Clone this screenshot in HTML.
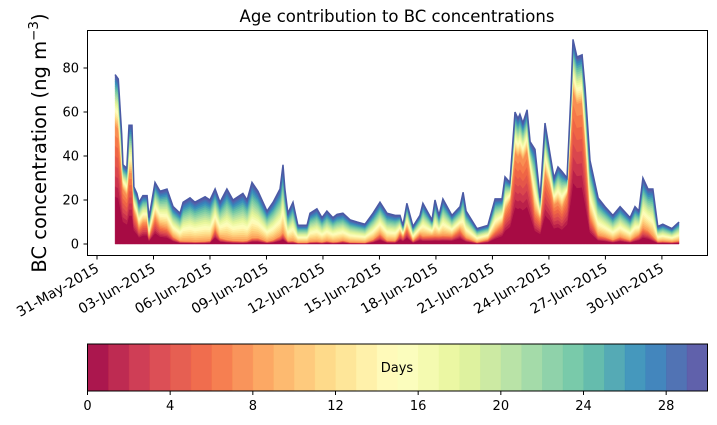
<!DOCTYPE html>
<html><head><meta charset="utf-8"><style>
body{margin:0;background:#fff;}
svg{display:block;font-family:"DejaVu Sans","Liberation Sans",sans-serif;}
</style></head><body>
<svg id="chart" width="717" height="425">
<text x="397" y="22" font-size="16.5" text-anchor="middle">Age contribution to BC concentrations</text>
<text transform="translate(46,143) rotate(-90)" font-size="19.5" text-anchor="middle">BC concentration (ng m<tspan dy="-8" font-size="13.5">−3</tspan><tspan dy="8">)</tspan></text>
<g id="layers"></g>
<rect x="87.5" y="30.5" width="620" height="225" fill="none" stroke="#000" stroke-width="1"/>
<g id="axes"></g>
<g id="cbar"></g>
</svg>
<script>
const days=[0.96,1.13,1.31,1.38,1.58,1.70,1.86,1.96,2.12,2.23,2.44,2.66,2.76,3.08,3.35,3.72,4.04,4.41,4.57,4.94,5.20,5.74,6.00,6.27,6.53,6.90,7.22,7.75,7.97,8.23,8.55,9.03,9.35,9.72,9.88,9.98,10.14,10.41,10.67,11.15,11.31,11.68,11.95,12.21,12.53,12.75,13.06,13.44,13.81,14.23,14.66,15.03,15.40,15.83,15.93,16.09,16.25,16.46,16.78,17.15,17.31,17.79,17.95,18.16,18.37,18.85,19.28,19.44,19.60,20.18,20.76,21.14,21.51,21.67,21.93,22.20,22.36,22.46,22.62,22.84,23.00,23.26,23.53,23.79,24.06,24.27,24.48,24.69,24.96,25.17,25.28,25.49,25.76,25.92,26.18,26.61,26.98,27.40,27.78,28.31,28.57,28.78,28.99,29.26,29.52,29.78,30.05,30.53,30.91];
const totals=[77,75,50,36,34.5,54,54,26,23,19,22,22,12,28,24,25,17,14,19,21,19,21.5,20,25,19,25,20,23,20,28,24,15,19,25,36,25,14,19,8.5,8.5,14,16,12,15,12,13.5,14,11,10,9,14,19,14,13,13,13,8.5,18.5,8,13,18.5,11,20,13,20.5,13,17,23.5,15,7,8.5,20.5,20.5,30.5,28,60,57,59,55,61,46.5,43,21,55,41,30,35,33,30,69,93,85,86,71,38,21,17,13,17,12,17,15,30,25,25,8,9,7,10,12];
const youngShare=[0.7,0.7,0.65,0.7,0.65,0.6,0.6,0.6,0.5,0.4,0.45,0.45,0.3,0.45,0.35,0.3,0.2,0.1,0.07,0.06,0.06,0.06,0.08,0.3,0.15,0.08,0.08,0.06,0.08,0.1,0.12,0.08,0.1,0.15,0.15,0.15,0.1,0.08,0.08,0.08,0.08,0.08,0.08,0.1,0.08,0.08,0.12,0.08,0.08,0.08,0.15,0.25,0.12,0.12,0.2,0.4,0.4,0.4,0.2,0.35,0.2,0.35,0.2,0.3,0.2,0.3,0.4,0.2,0.2,0.12,0.25,0.3,0.45,0.5,0.7,0.7,0.7,0.7,0.7,0.7,0.7,0.35,0.55,0.6,0.65,0.6,0.55,0.5,0.75,0.75,0.75,0.75,0.75,0.65,0.35,0.2,0.2,0.15,0.2,0.15,0.2,0.3,0.25,0.25,0.15,0.15,0.15,0.15,0.15];
const yTicks=[0,20,40,60,80];
const xTickLabels=['31-May-2015','03-Jun-2015','06-Jun-2015','09-Jun-2015','12-Jun-2015','15-Jun-2015','18-Jun-2015','21-Jun-2015','24-Jun-2015','27-Jun-2015','30-Jun-2015'];
const xTickDays=[0,3,6,9,12,15,18,21,24,27,30];
const cbarTicks=[0,4,8,12,16,20,24,28];
const NL=30;
const NS='http://www.w3.org/2000/svg';
function X(d){return 97+d*18.83;}
function Y(v){return 244-v*2.2;}
const stops=['#9e0142','#d53e4f','#f46d43','#fdae61','#fee08b','#ffffbf','#e6f598','#abdda4','#66c2a5','#3288bd','#5e4fa2'];
function hx(h){return [1,3,5].map(i=>parseInt(h.substr(i,2),16));}
function spectral(t){const p=t*10;const i=Math.min(9,Math.floor(p));const f=p-i;const a=hx(stops[i]),b=hx(stops[i+1]);return 'rgb('+a.map((v,j)=>Math.round(v+(b[j]-v)*f)).join(',')+')';}
function layerVal(i,k){const T=totals[i],y=youngShare[i];const young=T*y,rest=T*(1-y);
 if(k===0)return young*0.4; if(k<8)return young*0.6/7; if(k<16)return rest*0.35/8; return rest*0.65/14;}
const lg=document.getElementById('layers');
let cum=days.map(()=>0);
for(let k=0;k<NL;k++){
 const lo=cum.slice();const hi=cum.map((c,i)=>c+layerVal(i,k));
 let d='M'+days.map((t,i)=>X(t).toFixed(1)+','+Y(hi[i]).toFixed(1)).join('L');
 for(let i=days.length-1;i>=0;i--)d+='L'+X(days[i]).toFixed(1)+','+Y(lo[i]).toFixed(1);
 const p=document.createElementNS(NS,'path');p.setAttribute('d',d+'Z');
 p.setAttribute('fill',spectral((k+0.5)/NL));p.setAttribute('stroke',spectral((k+0.5)/NL));p.setAttribute('stroke-width','0.5');
 
 
 lg.appendChild(p);cum=hi;
}
const outline=document.createElementNS(NS,'polyline');
outline.setAttribute('points',days.map((t,i)=>X(t).toFixed(1)+','+Y(totals[i]).toFixed(1)).join(' '));
outline.setAttribute('fill','none');outline.setAttribute('stroke','#4a5aa5');outline.setAttribute('stroke-width','1.5');


lg.appendChild(outline);
const ax=document.getElementById('axes');
yTicks.forEach(v=>{const y=Y(v);
 const l=document.createElementNS(NS,'line');l.setAttribute('x1',83.5);l.setAttribute('x2',87.5);l.setAttribute('y1',y);l.setAttribute('y2',y);l.setAttribute('stroke','#000');
 
 ax.appendChild(l);
 const t=document.createElementNS(NS,'text');t.setAttribute('x',79);t.setAttribute('y',y+4.5);t.setAttribute('font-size','13');t.setAttribute('text-anchor','end');t.textContent=v;
 
 ax.appendChild(t);});
xTickDays.forEach((d,i)=>{const x=X(d);
 const l=document.createElementNS(NS,'line');l.setAttribute('x1',x);l.setAttribute('x2',x);l.setAttribute('y1',255.5);l.setAttribute('y2',259.5);l.setAttribute('stroke','#000');
 
 ax.appendChild(l);
 const t=document.createElementNS(NS,'text');t.setAttribute('transform','translate('+(x+3)+',271) rotate(-30)');t.setAttribute('font-size','14');t.setAttribute('text-anchor','end');t.textContent=xTickLabels[i];
 
 ax.appendChild(t);});
const cb=document.getElementById('cbar');
const cx0=87.5,cw=620,cy0=344,ch=47;
for(let k=0;k<NL;k++){const r=document.createElementNS(NS,'rect');
 r.setAttribute('x',cx0+k*cw/NL);r.setAttribute('y',cy0);r.setAttribute('width',cw/NL+0.5);r.setAttribute('height',ch);r.setAttribute('fill',spectral((k+0.5)/NL));r.setAttribute('fill-opacity','0.95');
 
 cb.appendChild(r);}
const fr=document.createElementNS(NS,'rect');fr.setAttribute('x',cx0);fr.setAttribute('y',cy0);fr.setAttribute('width',cw);fr.setAttribute('height',ch);fr.setAttribute('fill','none');fr.setAttribute('stroke','#000');

cb.appendChild(fr);
const dl=document.createElementNS(NS,'text');dl.setAttribute('x',397);dl.setAttribute('y',372);dl.setAttribute('font-size','13');dl.setAttribute('text-anchor','middle');dl.textContent='Days';

cb.appendChild(dl);
cbarTicks.forEach(v=>{const x=cx0+v*cw/NL;
 const l=document.createElementNS(NS,'line');l.setAttribute('x1',x);l.setAttribute('x2',x);l.setAttribute('y1',cy0+ch);l.setAttribute('y2',cy0+ch+4);l.setAttribute('stroke','#000');
 
 cb.appendChild(l);
 const t=document.createElementNS(NS,'text');t.setAttribute('x',x);t.setAttribute('y',cy0+ch+19);t.setAttribute('font-size','13');t.setAttribute('text-anchor','middle');t.textContent=v;
 
 cb.appendChild(t);});
</script>
</body></html>
